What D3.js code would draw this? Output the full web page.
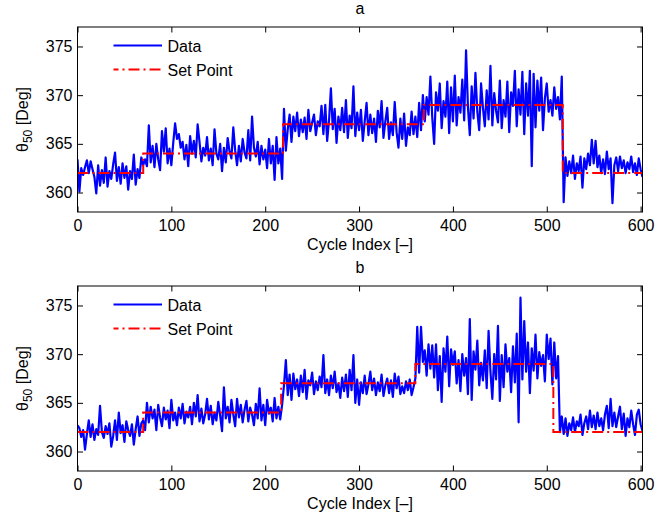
<!DOCTYPE html>
<html><head><meta charset="utf-8">
<script src="https://cdn.jsdelivr.net/npm/d3@7"></script>
<style>body{margin:0;background:#fff} text{font-family:"Liberation Sans",Arial,Helvetica,sans-serif;fill:#000}</style>
</head><body><svg id="c" width="667" height="518"></svg>
<script>
const cycleStep = 2;
const dataA = [
363.4,360.1,362.5,361.8,362.6,363.3,362.0,363.2,362.4,361.6,
359.9,362.8,360.7,362.3,361.0,363.6,360.6,362.2,361.4,362.9,
364.1,361.2,362.6,360.9,363.0,361.5,362.7,360.3,362.2,361.4,
363.9,360.8,362.4,361.5,363.6,362.8,363.4,362.7,366.9,363.1,
364.8,362.6,365.0,363.4,362.3,366.3,364.2,366.6,363.0,364.5,
362.8,365.1,367.1,365.5,366.0,364.6,365.2,363.4,364.9,362.7,
365.8,364.0,365.3,363.6,367.0,365.2,363.2,364.6,363.8,365.7,
363.3,364.5,362.8,366.5,364.0,363.4,365.0,362.2,364.6,363.1,
365.6,364.2,363.5,366.7,364.3,362.8,364.8,363.2,365.5,364.1,
363.5,366.4,363.3,367.8,364.6,363.7,365.2,362.9,364.8,363.4,
364.4,362.5,365.5,363.0,364.8,361.3,365.7,363.0,364.5,361.4,
368.6,364.3,366.5,368.0,365.2,367.8,366.3,368.2,365.8,367.5,
366.2,367.7,365.5,368.5,366.3,367.2,368.0,365.9,367.3,366.8,
368.9,366.0,369.0,365.3,367.4,370.7,366.5,368.6,365.1,367.8,
366.4,368.7,366.2,369.5,365.6,367.9,366.6,370.9,365.8,368.2,
366.4,368.5,365.3,367.3,369.2,365.9,368.0,366.1,367.6,365.2,
368.4,366.7,369.4,365.6,367.3,368.7,365.5,367.2,365.9,369.3,
366.2,364.6,367.6,365.5,368.1,364.8,366.7,365.9,368.3,366.0,
367.8,365.7,369.2,366.4,370.0,367.3,369.8,368.0,371.9,367.7,
365.0,370.3,368.4,371.2,366.6,369.4,367.8,371.4,366.1,370.8,
367.3,372.0,366.9,369.8,368.2,371.6,367.4,374.6,368.8,365.9,
370.9,367.6,372.3,368.3,366.4,371.2,368.7,366.8,370.5,367.5,
373.0,366.9,370.2,368.4,367.2,371.5,366.6,369.5,367.8,371.4,
366.2,370.3,368.9,372.5,366.8,370.6,368.0,372.4,366.0,371.2,
367.9,372.5,362.7,372.2,366.7,371.5,368.4,371.8,366.4,369.7,
371.2,368.3,369.5,367.9,370.8,368.6,369.8,367.5,371.9,359.0,
363.6,361.7,363.2,362.0,363.8,361.4,363.0,362.2,363.7,360.5,
363.5,362.4,364.0,362.8,365.4,363.0,365.3,362.6,363.8,362.0,
363.4,361.9,364.2,362.4,363.5,358.9,362.8,363.6,362.2,363.7,
362.5,363.3,362.0,363.1,362.4,363.7,362.1,363.0,361.8,363.5,
362.4,361.6];
const dataB = [
362.7,362.4,361.5,362.2,360.2,361.8,363.2,361.5,362.8,361.2,
362.3,361.7,364.7,362.0,361.4,362.6,361.8,362.9,360.5,361.6,
363.2,361.2,364.0,361.9,362.7,361.0,363.1,362.2,361.6,362.8,
360.7,362.3,363.6,361.6,362.9,363.2,362.2,365.0,363.0,364.6,
363.4,364.3,362.2,364.8,363.5,362.6,364.5,363.3,364.2,362.4,
365.3,363.2,364.0,362.7,364.5,363.4,364.9,362.9,364.1,363.5,
364.6,362.8,365.0,363.6,365.8,363.1,364.4,362.9,363.8,365.4,
363.3,364.7,362.8,364.0,363.2,365.1,363.7,362.1,366.6,363.4,
364.6,363.0,365.3,363.8,362.6,365.4,363.5,364.8,363.0,364.3,
365.2,363.1,364.5,363.8,362.7,364.9,363.4,366.5,363.2,364.8,
362.7,365.3,363.9,364.5,363.1,365.5,363.4,364.6,363.3,364.8,
366.8,369.4,365.8,367.9,365.3,368.0,366.4,367.4,365.7,367.8,
366.1,368.4,365.4,367.3,366.8,368.1,365.9,367.2,366.3,367.7,
366.6,369.9,366.0,367.4,365.8,367.8,366.5,368.2,366.1,367.0,
365.5,367.6,366.2,367.9,365.6,368.4,366.3,369.9,365.0,367.4,
364.8,367.1,366.0,367.8,365.9,366.9,368.2,366.3,367.5,365.8,
367.1,366.2,367.9,365.7,366.8,367.5,366.0,367.3,365.6,368.0,
366.5,367.7,365.9,366.7,366.0,367.2,366.3,367.4,365.8,366.6,
367.5,372.8,368.1,372.8,369.2,370.4,367.8,371.0,368.5,370.9,
367.6,371.0,366.3,369.8,365.1,370.6,368.2,371.8,366.7,370.5,
368.9,370.3,367.0,369.4,366.2,370.0,367.8,369.6,365.9,373.6,
365.3,370.3,368.4,371.4,366.8,369.1,367.3,370.4,366.5,372.4,
368.2,365.4,370.0,367.4,372.9,365.2,369.9,366.6,371.0,368.2,
369.6,366.1,370.8,367.1,372.1,363.0,375.8,367.4,373.4,368.2,
371.2,366.0,370.6,368.3,372.0,367.5,370.2,368.8,369.9,367.2,
372.0,369.5,371.6,366.9,371.2,367.5,369.8,362.0,363.6,361.8,
363.4,361.6,362.9,362.2,363.5,362.0,363.1,362.6,363.8,361.7,
362.9,363.6,362.3,364.2,362.5,363.7,362.3,364.0,362.6,363.4,
362.2,363.8,364.7,362.4,365.4,362.6,364.0,362.5,363.6,364.6,
362.3,363.9,361.6,363.4,362.5,364.2,362.8,361.7,363.8,364.3,
362.8,362.1];
const setStepsA = [0,70,219,369,517,602];
const setLevelsA = [362,364,367,369,362];
const setStepsB = [0,70,217,360,507,602];
const setLevelsB = [362,364,367,369,362];
const xTicks = [0,100,200,300,400,500,600];
const yTicks = [360,365,370,375];
const titles = ["a","b"];
const legendLabels = ["Data","Set Point"];
const xLabel = "Cycle Index [\u2013]";

const svg = d3.select("#c");
const FS = 16;
const panels = [
  {title:titles[0], top:27, bottom:212, data:dataA, steps:setStepsA, levels:setLevelsA},
  {title:titles[1], top:286, bottom:471, data:dataB, steps:setStepsB, levels:setLevelsB}
];
const L = 77.5, R = 642.5;
const x = d3.scaleLinear().domain([0,602]).range([L,R]);

panels.forEach((p,k)=>{
  const y = d3.scaleLinear().domain([358,377]).range([p.bottom,p.top]);
  const g = svg.append("g");
  const cid = "clip"+k;
  g.append("clipPath").attr("id",cid).append("rect")
    .attr("x",L).attr("y",p.top).attr("width",R-L).attr("height",p.bottom-p.top);
  const sp = p.steps.map((s,i)=>[s, p.levels[Math.min(i,p.levels.length-1)]]);
  const line = d3.line().x((d,i)=>x(i*cycleStep)).y(d=>y(d));
  g.append("path").attr("clip-path",`url(#${cid})`).datum(p.data).attr("d",line)
    .attr("fill","none").attr("stroke","#0000ff").attr("stroke-width",2.2).attr("stroke-linejoin","round");
  g.append("path").attr("clip-path",`url(#${cid})`).datum(sp)
    .attr("d",d3.line().x(d=>x(d[0])).y(d=>y(d[1])).curve(d3.curveStepAfter))
    .attr("fill","none").attr("stroke","#ff0000").attr("stroke-width",2)
    .attr("stroke-dasharray","11,4,2,4");
  const ax = [
    g.append("g").attr("transform",`translate(0,${p.bottom})`).call(d3.axisBottom(x).tickValues(xTicks).tickSize(-5.5).tickPadding(8)),
    g.append("g").attr("transform",`translate(0,${p.top})`).call(d3.axisTop(x).tickValues(xTicks).tickSize(-5.5).tickFormat("")),
    g.append("g").attr("transform",`translate(${L},0)`).call(d3.axisLeft(y).tickValues(yTicks).tickSize(-5.5).tickPadding(5)),
    g.append("g").attr("transform",`translate(${R},0)`).call(d3.axisRight(y).tickValues(yTicks).tickSize(-5.5).tickFormat(""))
  ];
  ax.forEach(a=>{a.select(".domain").remove(); a.selectAll("line").attr("stroke","#000");
    a.selectAll("text").style("font-size",FS+"px").attr("fill","#000");});
  g.append("rect").attr("x",L).attr("y",p.top).attr("width",R-L).attr("height",p.bottom-p.top)
    .attr("fill","none").attr("stroke","#000").attr("stroke-width",1);
  g.append("text").attr("x",(L+R)/2).attr("y",p.top-13).attr("text-anchor","middle").style("font-size",FS+"px").text(p.title);
  g.append("text").attr("x",(L+R)/2).attr("y",p.bottom+38).attr("text-anchor","middle").style("font-size",FS+"px").text(xLabel);
  const yl = g.append("text").attr("transform",`translate(28,${(p.top+p.bottom)/2}) rotate(-90)`)
    .attr("text-anchor","middle").style("font-size",FS+"px");
  yl.append("tspan").text("\u03b8");
  yl.append("tspan").attr("dy",4).style("font-size","12px").text("50");
  yl.append("tspan").attr("dy",-4).text(" [Deg]");
  const ly1 = p.top+18.5, ly2 = p.top+42.5;
  g.append("line").attr("x1",113.5).attr("x2",162).attr("y1",ly1).attr("y2",ly1).attr("stroke","#0000ff").attr("stroke-width",2);
  g.append("line").attr("x1",113.5).attr("x2",162).attr("y1",ly2).attr("y2",ly2).attr("stroke","#ff0000").attr("stroke-width",2).attr("stroke-dasharray","11,4,2,4").attr("stroke-dashoffset",-15);
  g.append("text").attr("x",167.5).attr("y",ly1+6).style("font-size",FS+"px").text(legendLabels[0]);
  g.append("text").attr("x",167.5).attr("y",ly2+6).style("font-size",FS+"px").text(legendLabels[1]);
});
</script></body></html>
